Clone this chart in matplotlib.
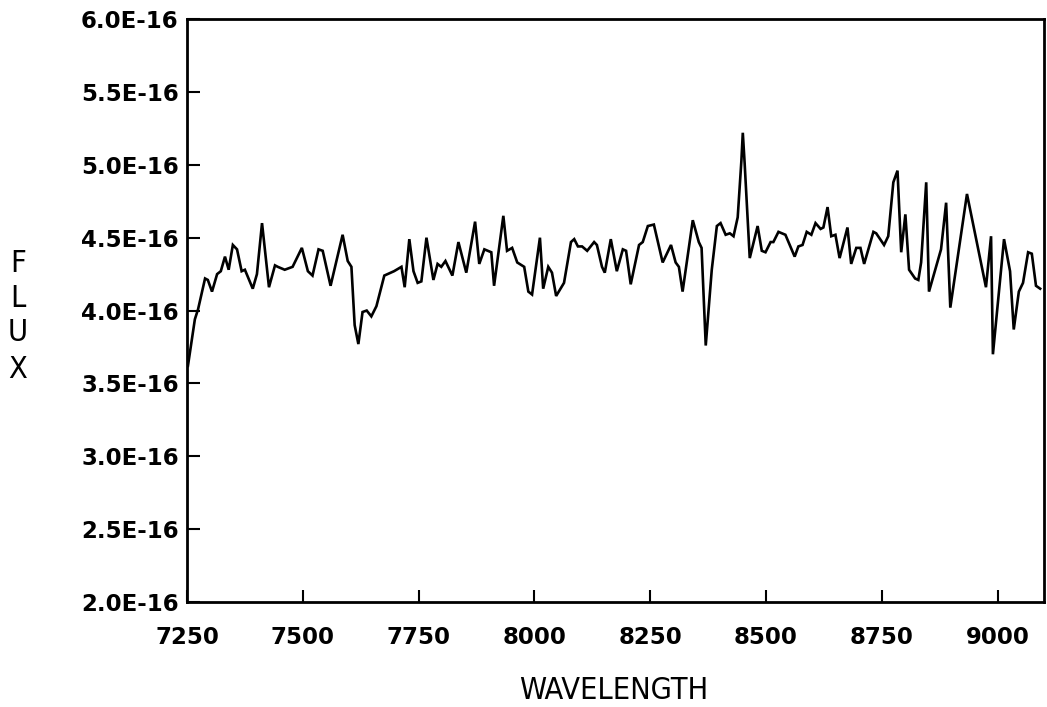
import numpy as np
import matplotlib.pyplot as plt
from matplotlib.ticker import FuncFormatter

plt.rcParams['font.family'] = ['DejaVu Sans']

# wavelength (Angstrom) and flux (units of 1E-16)
wavelength = [
    7252, 7267, 7274, 7289, 7295, 7304, 7315, 7323, 7332, 7340,
    7349, 7358, 7368, 7375, 7392, 7401, 7412, 7427, 7440, 7446,
    7461, 7478, 7498, 7511, 7521, 7534, 7543, 7560, 7586, 7597,
    7605, 7612, 7620, 7629, 7638, 7648, 7659, 7676, 7697, 7713,
    7720, 7730, 7739, 7748, 7756, 7767, 7782, 7791, 7799, 7808,
    7823, 7836, 7853, 7872, 7881, 7892, 7907, 7913, 7933, 7941,
    7952, 7963, 7978, 7987, 7995, 8012, 8019, 8030, 8038, 8047,
    8064, 8079, 8086, 8094, 8103, 8114, 8129, 8135, 8146, 8152,
    8165, 8178, 8191, 8198, 8208, 8226, 8234, 8245, 8258, 8277,
    8295, 8305, 8312, 8320, 8342, 8355, 8361, 8370, 8383, 8394,
    8402, 8413, 8422, 8430, 8439, 8447, 8450, 8454, 8465, 8482,
    8491, 8499, 8510, 8516, 8527, 8542, 8562, 8570, 8579, 8588,
    8598, 8607, 8618, 8624, 8633, 8641, 8650, 8659, 8676, 8684,
    8695, 8704, 8712, 8732, 8738, 8755, 8764, 8775, 8784, 8792,
    8801, 8809, 8822, 8829, 8835, 8846, 8852, 8878, 8889, 8898,
    8934, 8975, 8986, 8990, 9014, 9027, 9035, 9046, 9055, 9066,
    9074, 9083, 9092,
]
flux = [
    3.62, 3.94, 4.01, 4.22, 4.21, 4.13, 4.25, 4.27, 4.37, 4.28,
    4.45, 4.42, 4.27, 4.28, 4.15, 4.25, 4.60, 4.16, 4.31, 4.30,
    4.28, 4.30, 4.43, 4.27, 4.24, 4.42, 4.41, 4.17, 4.52, 4.34,
    4.30, 3.90, 3.77, 3.99, 4.00, 3.96, 4.03, 4.24, 4.27, 4.30,
    4.16, 4.49, 4.27, 4.19, 4.20, 4.50, 4.21, 4.32, 4.30, 4.34,
    4.24, 4.47, 4.26, 4.61, 4.32, 4.42, 4.40, 4.17, 4.65, 4.41,
    4.43, 4.33, 4.30, 4.13, 4.11, 4.50, 4.15, 4.30, 4.26, 4.10,
    4.19, 4.47, 4.49, 4.44, 4.44, 4.41, 4.47, 4.45, 4.30, 4.26,
    4.49, 4.27, 4.42, 4.41, 4.18, 4.45, 4.47, 4.58, 4.59, 4.33,
    4.45, 4.33, 4.30, 4.13, 4.62, 4.47, 4.43, 3.76, 4.28, 4.58,
    4.60, 4.52, 4.53, 4.51, 4.64, 5.03, 5.22, 5.01, 4.36, 4.58,
    4.41, 4.40, 4.47, 4.47, 4.54, 4.52, 4.37, 4.44, 4.45, 4.54,
    4.52, 4.60, 4.56, 4.57, 4.71, 4.51, 4.52, 4.36, 4.57, 4.32,
    4.43, 4.43, 4.32, 4.54, 4.53, 4.45, 4.51, 4.88, 4.96, 4.40,
    4.66, 4.28, 4.22, 4.21, 4.33, 4.88, 4.13, 4.42, 4.74, 4.02,
    4.80, 4.16, 4.51, 3.70, 4.49, 4.27, 3.87, 4.13, 4.19, 4.40,
    4.39, 4.17, 4.15,
]
x_ticks = [7250, 7500, 7750, 8000, 8250, 8500, 8750, 9000]
y_ticks = [2.0, 2.5, 3.0, 3.5, 4.0, 4.5, 5.0, 5.5, 6.0]

fig = plt.figure(figsize=(10.47, 7.07), dpi=100)
ax = fig.add_axes([0.1786, 0.1485, 0.8184, 0.8245])

ax.plot(wavelength, np.array(flux) * 1e-16, color='black', lw=1.9,
        solid_joinstyle='miter')

ax.set_xlim(7250, 9100)
ax.set_ylim(2.0e-16, 6.0e-16)
ax.set_xticks(x_ticks)
ax.set_yticks(np.array(y_ticks) * 1e-16)
ax.yaxis.set_major_formatter(FuncFormatter(lambda v, p: f"{v / 1e-16:.1f}E-16"))

ax.tick_params(direction='in', length=9, width=1.5, labelsize=16.5, colors='black')
ax.tick_params(axis='x', pad=17)
ax.tick_params(axis='y', pad=6)
for s in ax.spines.values():
    s.set_linewidth(2.0)

for lab in ax.get_xticklabels() + ax.get_yticklabels():
    lab.set_fontweight('semibold')

# stacked vertical axis label
flux_y = [0.628, 0.5785, 0.529, 0.477]
for ch, yy in zip("FLUX", flux_y):
    fig.text(0.017, yy, ch, fontsize=22, ha='center', va='center',
             fontstretch='condensed')

fig.text(0.5865, 0.024, "WAVELENGTH", fontsize=22, ha='center', va='center',
         fontstretch='condensed')

fig.savefig("out.png", dpi=100)
